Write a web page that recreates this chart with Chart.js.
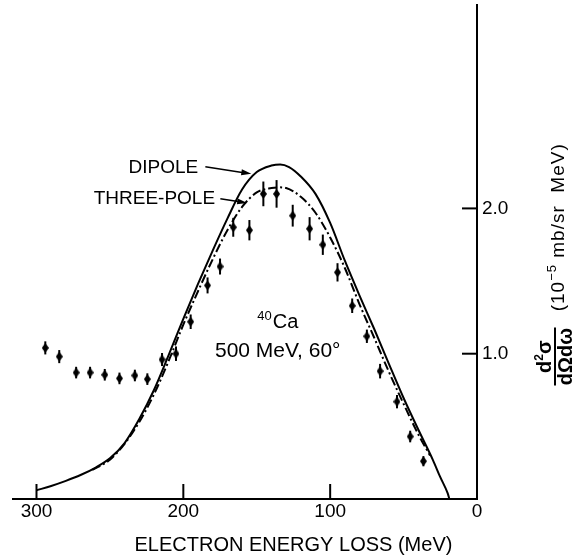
<!DOCTYPE html>
<html><head><meta charset="utf-8">
<script src="https://cdn.jsdelivr.net/npm/chart.js@4/dist/chart.umd.min.js"></script>
<style>html,body{margin:0;padding:0;background:#fff;} #wrap{width:582px;height:555px;}</style>
</head><body><div id="wrap"><canvas id="c" width="582" height="555"></canvas></div>
<script>
// ---------- data ----------
const xTickValues = [300, 200, 100, 0];
const yTickValues = [1.0, 2.0];

const dipoleLoss  = [300,290,280,270,260,250,240,230,220,210,200,190,180,170,160,150,140,134,128,120,110,100,90,80,70,60,50,40,30,25,20,18.8];
const dipoleValue = [0.06,0.09,0.125,0.165,0.215,0.28,0.385,0.55,0.75,0.99,1.24,1.48,1.71,1.93,2.13,2.25,2.295,2.303,2.285,2.22,2.10,1.90,1.64,1.40,1.17,0.93,0.695,0.478,0.268,0.15,0.04,0];

const threePoleLoss  = [262,250,240,230,220,210,200,190,180,170,160,150,140,135,130,120,110,100,90,80,70,60,50,40,32];
const threePoleValue = [0.20,0.27,0.38,0.53,0.72,0.95,1.20,1.43,1.65,1.85,2.01,2.11,2.14,2.145,2.14,2.08,1.97,1.80,1.59,1.34,1.11,0.875,0.655,0.445,0.30];

const dataLoss  = [294,284.5,273,263.5,253.5,243.5,233,224.5,214.5,205,195,183.5,175,166,155,145.5,136.5,125.5,114,105,95,85,75,66,54.5,45.5,36.5];
const dataValue = [1.04,0.98,0.87,0.87,0.855,0.83,0.85,0.825,0.96,1.00,1.22,1.47,1.60,1.87,1.85,2.10,2.10,1.95,1.86,1.75,1.56,1.33,1.12,0.88,0.67,0.43,0.26];
const dataError = [0.045,0.045,0.04,0.04,0.04,0.04,0.04,0.04,0.045,0.05,0.05,0.055,0.055,0.065,0.07,0.085,0.095,0.075,0.08,0.07,0.063,0.05,0.046,0.05,0.046,0.04,0.035];

const xTitleText = 'ELECTRON ENERGY LOSS (MeV)';
const dipoleLabel = 'DIPOLE';
const threePoleLabel = 'THREE-POLE';

// ---------- styling / layout ----------
const FONT = "'Liberation Sans', Arial, sans-serif";
Chart.defaults.font.family = FONT;
Chart.defaults.color = '#000';

function makeDiamond(){
  const c = document.createElement('canvas'); c.width = 7; c.height = 10;
  const g = c.getContext('2d'); g.fillStyle = '#000';
  g.beginPath(); g.moveTo(3.5,0); g.lineTo(7,5); g.lineTo(3.5,10); g.lineTo(0,5); g.closePath(); g.fill();
  return c;
}
const toXY = (xs, ys) => xs.map((v,i)=>({x:v, y:ys[i]}));

const errorBars = {
  id:'errorBars',
  beforeDatasetsDraw(chart){
    const {ctx, scales:{x,y}} = chart;
    ctx.save(); ctx.strokeStyle='#000'; ctx.lineWidth=2;
    dataLoss.forEach((e,i)=>{
      const px = x.getPixelForValue(e);
      ctx.beginPath();
      ctx.moveTo(px, y.getPixelForValue(dataValue[i]-dataError[i]));
      ctx.lineTo(px, y.getPixelForValue(dataValue[i]+dataError[i]));
      ctx.stroke();
    });
    ctx.restore();
  }
};

function arrow(ctx, x1,y1,x2,y2){
  const a = Math.atan2(y2-y1, x2-x1), L=10, W=3;
  ctx.beginPath(); ctx.moveTo(x1,y1); ctx.lineTo(x2 - L*0.6*Math.cos(a), y2 - L*0.6*Math.sin(a)); ctx.stroke();
  ctx.beginPath(); ctx.moveTo(x2,y2);
  ctx.lineTo(x2 - L*Math.cos(a) + W*Math.sin(a), y2 - L*Math.sin(a) - W*Math.cos(a));
  ctx.lineTo(x2 - L*Math.cos(a) - W*Math.sin(a), y2 - L*Math.sin(a) + W*Math.cos(a));
  ctx.closePath(); ctx.fill();
}

const decorations = {
  id:'decorations',
  afterDraw(chart){
    const {ctx, chartArea:ca, scales:{x,y}} = chart;
    ctx.save(); ctx.fillStyle='#000'; ctx.strokeStyle='#000';
    // inward ticks
    ctx.lineWidth=2;
    xTickValues.forEach(v=>{ if (v===0) return; const px=x.getPixelForValue(v);
      ctx.beginPath(); ctx.moveTo(px, ca.bottom); ctx.lineTo(px, ca.bottom-15); ctx.stroke(); });
    yTickValues.forEach(v=>{ const py=y.getPixelForValue(v);
      ctx.beginPath(); ctx.moveTo(ca.right, py); ctx.lineTo(ca.right-15, py); ctx.stroke(); });

    // x-axis title
    ctx.font = '20px '+FONT; ctx.textAlign='center'; ctx.textBaseline='alphabetic';
    ctx.fillText(xTitleText, x.getPixelForValue(125), 551);

    // curve labels and arrows
    ctx.font = '19px '+FONT; ctx.textAlign='center';
    ctx.fillText(dipoleLabel, x.getPixelForValue(213.6), y.getPixelForValue(2.241));
    ctx.fillText(threePoleLabel, x.getPixelForValue(219.7), y.getPixelForValue(2.028));
    ctx.lineWidth=1.5;
    arrow(ctx, x.getPixelForValue(185.0), y.getPixelForValue(2.286), x.getPixelForValue(153.7), y.getPixelForValue(2.238));
    arrow(ctx, x.getPixelForValue(174.8), y.getPixelForValue(2.066), x.getPixelForValue(156.5), y.getPixelForValue(2.038));

    // 40Ca
    const cx = x.getPixelForValue(135.7);
    ctx.textAlign='left';
    ctx.font='13px '+FONT; const w40 = ctx.measureText('40').width;
    ctx.font='20px '+FONT; const wCa = ctx.measureText('Ca').width;
    let sx = cx - (w40+1+wCa)/2; const by = y.getPixelForValue(1.179);
    ctx.font='13px '+FONT; ctx.fillText('40', sx, by-8);
    ctx.font='20px '+FONT; ctx.fillText('Ca', sx+w40+1, by);
    ctx.font='21px '+FONT; ctx.textAlign='center';
    ctx.fillText('500 MeV, 60°', cx, y.getPixelForValue(0.979));
    ctx.restore();

    // y-axis title: fraction
    ctx.save(); ctx.fillStyle='#000'; ctx.strokeStyle='#000';
    ctx.translate(ca.right + 78, y.getPixelForValue(0.98));
    ctx.rotate(-Math.PI/2);
    const bf = '700 20px '+FONT, sf = '700 12px '+FONT;
    ctx.textBaseline='alphabetic'; ctx.textAlign='left';
    ctx.font=bf; const wd=ctx.measureText('d').width, ws=ctx.measureText('σ').width;
    ctx.font=sf; const w2=ctx.measureText('2').width;
    let xx = -(wd+w2+ws)/2;
    ctx.font=bf; ctx.fillText('d', xx, -4); xx+=wd;
    ctx.font=sf; ctx.fillText('2', xx, -12); xx+=w2;
    ctx.font=bf; ctx.fillText('σ', xx, -4);
    ctx.lineWidth=2; ctx.beginPath(); ctx.moveTo(-29,0); ctx.lineTo(29,0); ctx.stroke();
    ctx.font=bf; ctx.textAlign='center'; ctx.fillText('dΩdω', 0, 17);
    ctx.restore();

    // y-axis title: units
    ctx.save(); ctx.fillStyle='#000';
    ctx.translate(ca.right + 87, y.getPixelForValue(1.87));
    ctx.rotate(-Math.PI/2);
    ctx.textBaseline='alphabetic'; ctx.textAlign='left';
    try { ctx.letterSpacing='1px'; } catch(e){}
    const f1='19px '+FONT, f2='13px '+FONT;
    const segs=[['(10',f1,0],['−5',f2,-8],[' mb/sr  MeV)',f1,0]];
    let tw=0; segs.forEach(s=>{ctx.font=s[1]; s.push(ctx.measureText(s[0]).width); tw+=s[3];});
    let ux=-tw/2;
    segs.forEach(s=>{ctx.font=s[1]; ctx.fillText(s[0], ux, s[2]); ux+=s[3];});
    ctx.restore();
  }
};

new Chart(document.getElementById('c'), {
  type:'scatter',
  data:{
    datasets:[
      {label:'DIPOLE', data:toXY(dipoleLoss, dipoleValue), showLine:true, borderColor:'#000', borderWidth:2,
       pointRadius:0, cubicInterpolationMode:'monotone', fill:false},
      {label:'THREE-POLE', data:toXY(threePoleLoss, threePoleValue), showLine:true, borderColor:'#000', borderWidth:2,
       borderDash:[9,3,2,3], pointRadius:0, cubicInterpolationMode:'monotone', fill:false},
      {label:'data', data:toXY(dataLoss, dataValue), showLine:false, pointStyle:makeDiamond(), pointRadius:4,
       backgroundColor:'#000', borderColor:'#000'}
    ]
  },
  options:{
    responsive:false, animation:false, devicePixelRatio:1,
    layout:{padding:{left:13, top:5, right:0, bottom:0}},
    plugins:{legend:{display:false}, tooltip:{enabled:false}},
    scales:{
      x:{type:'linear', reverse:true, min:0, max:316, position:'bottom',
         afterBuildTicks:s=>{ s.ticks = xTickValues.map(v=>({value:v})); },
         afterFit:s=>{ s.height = 56; s.paddingLeft = 0; s.paddingRight = 0; },
         grid:{display:false, drawTicks:false},
         border:{display:true, color:'#000', width:2},
         ticks:{font:{size:19}, color:'#000', padding:1, maxRotation:0, autoSkip:false, callback:v=>String(v)}
      },
      y:{type:'linear', position:'right', min:0, max:3.4,
         afterBuildTicks:s=>{ s.ticks = yTickValues.map(v=>({value:v})); },
         afterFit:s=>{ s.width = 105; s.paddingTop = 0; s.paddingBottom = 0; },
         grid:{display:false, drawTicks:false},
         border:{display:true, color:'#000', width:2},
         ticks:{font:{size:19}, color:'#000', padding:5, callback:v=>Number(v).toFixed(1)}
      }
    }
  },
  plugins:[errorBars, decorations]
});
</script></body></html>
